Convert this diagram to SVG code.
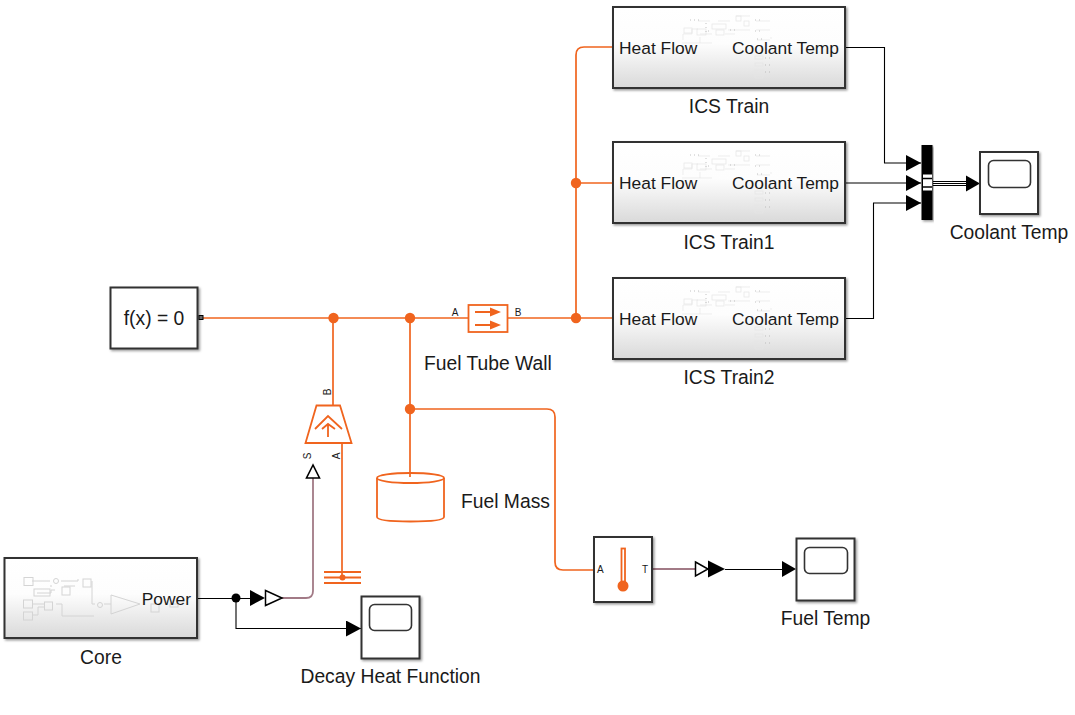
<svg xmlns="http://www.w3.org/2000/svg" xmlns:xlink="http://www.w3.org/1999/xlink" width="1075" height="715" viewBox="0 0 1075 715">
<style>
text{font-family:"Liberation Sans",Arial,sans-serif;fill:#1a1a1a}
.lb{font-size:19.3px}
.in{font-size:17.4px}
.pt{font-size:10px}
.blk{fill:#fff;stroke:#333;stroke-width:2;filter:url(#sh)}
.sub{fill:url(#gr);stroke:#333;stroke-width:2;filter:url(#sh)}
.sig{fill:none;stroke:#000;stroke-width:1.1}
.sa{marker-end:url(#ah)}
.phy{fill:none;stroke:#f0641e;stroke-width:1.7}
.cv{fill:none;stroke:#a27a86;stroke-width:1.8}
.dot{fill:#f0641e}
.or{fill:none;stroke:#f0641e;stroke-width:1.8}
.sc{fill:#fff;stroke:#333;stroke-width:1.6}
.th{fill:none;stroke:#d4d4d4;stroke-width:1}
.tc{fill:none;stroke:#e6e6e6;stroke-width:.7}
.td{fill:none;stroke:#aaa;stroke-width:.7;stroke-dasharray:1 3}
</style>
<defs>
<linearGradient id="gr" x1="0" y1="0" x2="0" y2="1"><stop offset="0" stop-color="#fff"/><stop offset=".45" stop-color="#fdfdfd"/><stop offset="1" stop-color="#d9d9d9"/></linearGradient>
<filter id="sh" x="-10%" y="-10%" width="120%" height="125%"><feDropShadow dx="1.5" dy="1.5" stdDeviation="1.2" flood-color="#000" flood-opacity=".4"/></filter>
<marker id="ah" markerUnits="userSpaceOnUse" markerWidth="15" markerHeight="16" refX="15" refY="8" orient="auto"><path d="M0 0L15 8L0 16z" fill="#000"/></marker>
<g id="thumb">
<path class="tc" d="M683 34H692V29H698M698 21H710M718 21H730M728 30H750M736 16H750M756 21H770M756 30H770M770 38H772M683 34V40M700 34H712M725 34H735M757 40H770"/>
<rect class="tc" x="684" y="28" width="8" height="5"/><rect class="tc" x="697" y="29" width="9" height="6"/><rect class="tc" x="716" y="30" width="8" height="5"/><rect class="tc" x="712" y="24" width="14" height="5"/><rect class="tc" x="744" y="21" width="5" height="5"/><rect class="tc" x="736" y="16" width="5" height="5"/>
<path class="td" d="M690 20H700M706 23V34M708 31H712M730 30H738M755 20H760M755 31H760M757 39H762M765 58H772M765 65H772M765 72H772"/>
<rect class="tc" x="755" y="56" width="8" height="3"/><rect class="tc" x="755" y="63" width="8" height="3"/><rect class="tc" x="755" y="70" width="8" height="3"/><rect class="tc" x="755" y="75" width="8" height="3"/>
<path class="tc" d="M682 43H712M700 37V43"/>
</g>
</defs>
<g id="connectors">
<path class="phy" d="M203 318H468"/>
<path class="phy" d="M508 318H612"/>
<path class="phy" d="M576 318V55Q576 47 584 47H612"/>
<path class="phy" d="M576 183H612"/>
<path class="phy" d="M333 318V405"/>
<path class="phy" d="M342 443V577"/>
<path class="phy" d="M410 318V477"/>
<path class="phy" d="M410 409H547Q555 409 555 417V562Q555 570 563 570H594"/>
<path class="cv" d="M282 598H306Q313 598 313 591V478"/>
<path class="cv" d="M652 569H695"/>
<path class="sig" d="M197 598.500H250"/>
<path class="sig sa" d="M236 598V628.500H361"/>
<path class="sig sa" d="M845 47.500H884.500V163H921" />
<path class="sig sa" d="M845 183H921"/>
<path class="sig sa" d="M845 318.500H873.500V203H921"/>
<path class="sig" d="M933 181.500H966M933 183.500H966M933 185.500H966"/>
<path class="sig" d="M725 569.500H782"/>
<polygon points="966,175.500 980,183.500 966,191.500" fill="#000"/>
<polygon points="782,561 796,569 782,577" fill="#000"/>
<polygon points="250,590 265,598 250,606" fill="#000"/>
<polygon points="265.500,590.500 282,598 265.500,605.500" fill="#fff" stroke="#000" stroke-width="1.5"/>
<polygon points="695.500,562 708,569 695.500,576" fill="#fff" stroke="#000" stroke-width="1.5"/>
<polygon points="708,560.500 725,569 708,577.500" fill="#000"/>
<polygon points="313,465 306.500,478 319.500,478" fill="#fff" stroke="#000" stroke-width="1.6"/>
<circle cx="236" cy="598" r="4.500" fill="#000"/>
<circle class="dot" cx="333.500" cy="318" r="5.200"/>
<circle class="dot" cx="410" cy="318" r="5.200"/>
<circle class="dot" cx="410" cy="409" r="5.200"/>
<circle class="dot" cx="576" cy="318" r="5.200"/>
<circle class="dot" cx="576" cy="183" r="5.200"/>
</g>
<g id="ics-train">
<rect class="sub" x="613" y="7" width="232" height="81"/>
<use href="#thumb"/>
<text class="in" x="619" y="54">Heat Flow</text>
<text class="in" x="839" y="54" text-anchor="end">Coolant Temp</text>
<text class="lb" x="729" y="113" text-anchor="middle">ICS Train</text>
</g>
<g id="ics-train1">
<rect class="sub" x="613" y="142" width="232" height="81"/>
<use href="#thumb" y="135"/>
<text class="in" x="619" y="189">Heat Flow</text>
<text class="in" x="839" y="189" text-anchor="end">Coolant Temp</text>
<text class="lb" x="729" y="249" text-anchor="middle">ICS Train1</text>
</g>
<g id="ics-train2">
<rect class="sub" x="613" y="278" width="232" height="81"/>
<use href="#thumb" y="271"/>
<text class="in" x="619" y="325">Heat Flow</text>
<text class="in" x="839" y="325" text-anchor="end">Coolant Temp</text>
<text class="lb" x="729" y="384" text-anchor="middle">ICS Train2</text>
</g>
<g id="mux">
<rect x="921.500" y="145" width="11" height="75" fill="#000" filter="url(#sh)"/>
<rect x="923" y="174.500" width="9" height="16" fill="#fff"/>
<path d="M923 178.500H932M923 187H932" stroke="#000" stroke-width="1.500"/>
</g>
<g id="coolant-scope">
<rect class="blk" x="980" y="152" width="58" height="62"/>
<rect class="sc" x="988.500" y="160.500" width="42" height="27" rx="5"/>
<text class="lb" x="1009" y="239" text-anchor="middle">Coolant Temp</text>
</g>
<g id="solver">
<rect class="blk" x="110.500" y="287.500" width="87" height="61"/>
<text class="lb" x="154" y="325" text-anchor="middle">f(x) = 0</text>
<rect x="199" y="315.500" width="4" height="4" fill="#666" stroke="#000" stroke-width="1"/>
</g>
<g id="fuel-tube-wall">
<rect class="or" x="468.500" y="305" width="39" height="27" fill="#fff"/>
<path class="or" d="M475 312H492M475 325H492"/>
<path d="M490 307.500L501 312L490 316.500zM490 320.500L501 325L490 329.500z" fill="#f0641e"/>
<text class="pt" x="455" y="316" text-anchor="middle">A</text>
<text class="pt" x="518" y="316" text-anchor="middle">B</text>
<text class="lb" x="424" y="370">Fuel Tube Wall</text>
</g>
<g id="pump">
<polygon class="or" points="316.500,405.500 340,405.500 351.500,443 305.500,443"/>
<path class="or" d="M315 429L328 416L342 429M322 429L328 424L335 429M328 424V437"/>
<text class="pt" transform="translate(330.500 392) rotate(-90)" text-anchor="middle">B</text>
<text class="pt" transform="translate(310.500 456) rotate(-90)" text-anchor="middle">S</text>
<text class="pt" transform="translate(340 456) rotate(-90)" text-anchor="middle">A</text>
</g>
<g id="ground">
<path class="or" d="M324 572H361M324 577.500H361M324 583H361"/>
<circle class="dot" cx="342.500" cy="577.500" r="3"/>
</g>
<g id="fuel-mass">
<path class="or" d="M377 478V517Q377 521.500 410.500 521.500Q444 521.500 444 517V478"/>
<ellipse class="or" cx="410.500" cy="478" rx="33.500" ry="5"/>
<text class="lb" x="461" y="508">Fuel Mass</text>
</g>
<g id="thermometer">
<rect class="blk" x="594" y="537" width="58" height="65"/>
<rect class="or" x="621.500" y="548.500" width="3.500" height="34"/>
<circle class="dot" cx="623" cy="586" r="5.500"/>
<text class="pt" x="597" y="573">A</text>
<text class="pt" x="642" y="573">T</text>
</g>
<g id="fuel-temp-scope">
<rect class="blk" x="796.500" y="538.500" width="58" height="62"/>
<rect class="sc" x="804.500" y="547.500" width="43" height="26" rx="5"/>
<text class="lb" x="825.500" y="625" text-anchor="middle">Fuel Temp</text>
</g>
<g id="core">
<rect class="sub" x="4.500" y="558" width="192.500" height="80"/>
<path class="th" d="M32 581H50M61 581H78M78 581V579M64 586H75M50 586H52M32 604H44M56 604H62V616H94M92 581V604H95M32 615H38V607H44M37 593H51M51 593V590H55M104 604H111"/>
<rect class="th" x="24" y="577.500" width="9" height="8"/><rect class="th" x="34" y="589" width="16" height="7"/><rect class="th" x="62" y="587" width="8" height="8"/><rect class="th" x="83" y="579" width="8" height="8"/><rect class="th" x="23.500" y="600" width="9" height="8"/><rect class="th" x="44.500" y="602" width="8" height="8"/><rect class="th" x="23.500" y="612" width="9" height="8"/>
<circle class="th" cx="56" cy="581" r="2.500"/><circle class="th" cx="100" cy="605" r="2.500"/>
<polygon class="th" points="111,595 111,614 140,604"/>
<rect class="th" x="151" y="604" width="8" height="8"/><rect class="th" x="170" y="604" width="8" height="3"/>
<text class="in" x="191" y="605" text-anchor="end">Power</text>
<text class="lb" x="101" y="664" text-anchor="middle">Core</text>
</g>
<g id="decay-scope">
<rect class="blk" x="361.500" y="596.500" width="58" height="62"/>
<rect class="sc" x="369.500" y="604.500" width="42" height="26" rx="5"/>
<text class="lb" x="390.500" y="683" text-anchor="middle">Decay Heat Function</text>
</g>
</svg>
